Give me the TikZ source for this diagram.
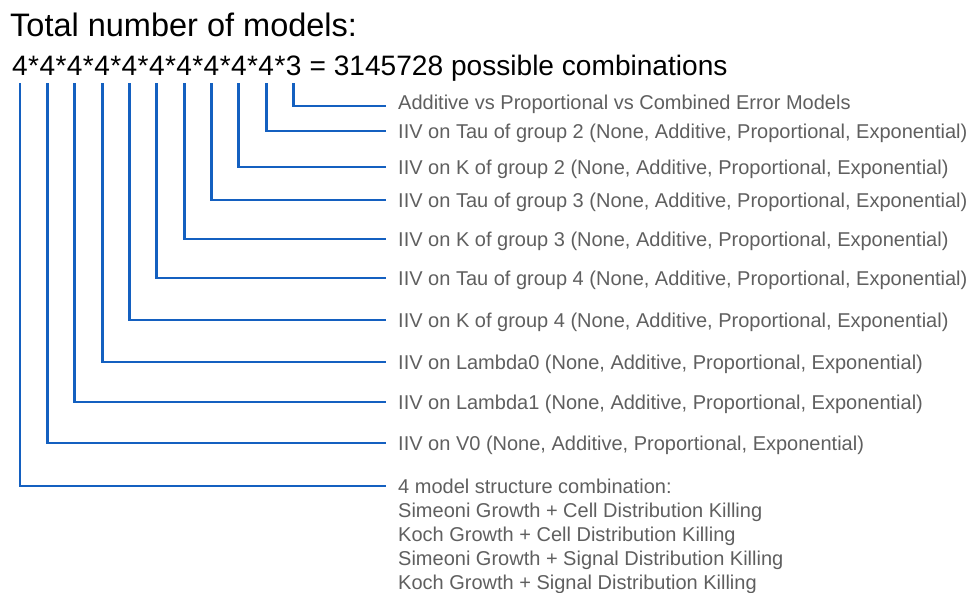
\documentclass[tikz,border=0pt]{standalone}
\usepackage{fontspec}
\setmainfont{Liberation Sans}
\usetikzlibrary{positioning}
\definecolor{lnBlue}{RGB}{20,96,192}
\definecolor{txtGray}{RGB}{95,95,95}

\begin{document}
\begin{tikzpicture}[x=1pt, y=-1pt,
  digit/.style={inner sep=0pt, anchor=base west, font=\fontsize{28.1}{34}\selectfont},
  lab/.style={inner sep=0pt, anchor=west, text=txtGray, text height=14pt, text depth=0pt, font=\fontsize{20}{24.2}\selectfont},
  note/.style={inner sep=0pt, text=txtGray, align=left, font=\fontsize{20}{24.2}\selectfont},
  link/.style={lnBlue, line width=2.9pt, shorten <=8pt, shorten >=12pt}
]
  \useasboundingbox (0,0) rectangle (972,592);

  \node[inner sep=0pt, anchor=base west, font=\fontsize{32.5}{38}\selectfont] (title) at (10,36) {Total number of models:};

  % factors of the product
  \node[digit] (d1) at (12,75) {4};
  \foreach \i [evaluate=\i as \j using int(\i+1)] in {1,...,10} {
    \node[digit] (s\i) at (d\i.base east) {*};
    \node[digit] (d\j) at (s\i.base east) {\ifnum\j=11 3\else 4\fi};
  }
  \node[digit] (total) at (d11.base east) {\ = 3145728 possible combinations};

  % what each factor stands for
  \node[lab, text depth=8pt] (l11) at (398,106) {Additive vs Proportional vs Combined Error Models};
  \node[lab] (l10) at (398,131) {IIV on Tau of group 2 (None, Additive, Proportional, Exponential)};
  \node[lab] (l9) at (398,167) {IIV on K of group 2 (None, Additive, Proportional, Exponential)};
  \node[lab] (l8) at (398,200) {IIV on Tau of group 3 (None, Additive, Proportional, Exponential)};
  \node[lab] (l7) at (398,239) {IIV on K of group 3 (None, Additive, Proportional, Exponential)};
  \node[lab] (l6) at (398,278) {IIV on Tau of group 4 (None, Additive, Proportional, Exponential)};
  \node[lab] (l5) at (398,320) {IIV on K of group 4 (None, Additive, Proportional, Exponential)};
  \node[lab] (l4) at (398,362) {IIV on Lambda0 (None, Additive, Proportional, Exponential)};
  \node[lab] (l3) at (398,402) {IIV on Lambda1 (None, Additive, Proportional, Exponential)};
  \node[lab] (l2) at (398,443) {IIV on V0 (None, Additive, Proportional, Exponential)};
  \node[lab] (l1) at (398,486) {4 model structure combination:};
  \node[note, below=9.4pt of l1.south west, anchor=north west] (l1list) {Simeoni Growth + Cell Distribution Killing\\Koch Growth + Cell Distribution Killing\\Simeoni Growth + Signal Distribution Killing\\Koch Growth + Signal Distribution Killing};

  \foreach \i in {1,...,11}
    \draw[link] (d\i.south) |- (l\i.west);
\end{tikzpicture}
\end{document}
